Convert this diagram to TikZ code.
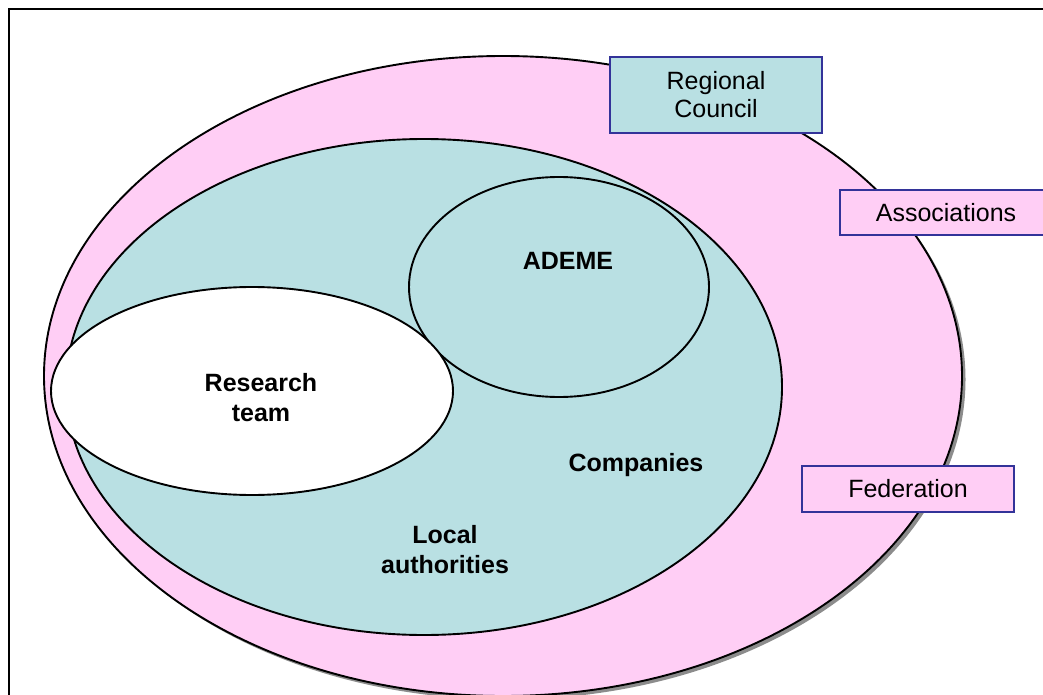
\documentclass[tikz,border=0pt]{standalone}
\usepackage{fontspec}
\setmainfont{Liberation Sans}
\usetikzlibrary{shapes.geometric}
\definecolor{pinkfill}{RGB}{255,206,245}
\definecolor{tealfill}{RGB}{185,224,227}
\definecolor{boxline}{RGB}{51,51,153}
\tikzset{
  ell/.style={ellipse, draw=black, line width=1.9pt, inner sep=0pt},
  lbl/.style={align=center, font=\fontsize{25}{30}\selectfont\bfseries},
  tagbox/.style={draw=boxline, line width=1.8pt, minimum width=212pt, inner sep=0pt, align=center, font=\fontsize{25}{28}\selectfont}
}
\begin{document}
\begin{tikzpicture}[x=1pt,y=-1pt]
\useasboundingbox (0,0) rectangle (1043,695);
\clip (0,0) rectangle (1043,695);
\draw[line width=2.4pt] (9,9) rectangle (1070,720);
% outer ellipse with shadow
\node[ellipse, fill=gray!90, inner sep=0pt, minimum width=918pt, minimum height=640pt] (outershadow) at (506.5,379.5) {};
\node[ell, fill=pinkfill, minimum width=918pt, minimum height=640pt] (outer) at (503,376) {};
\node[ell, fill=tealfill, minimum width=716pt, minimum height=496pt] (inner) at (424,387) {};
\node[ell, fill=tealfill, minimum width=300pt, minimum height=220pt] (ademe) at (559,287) {};
\node[ell, fill=white, minimum width=402pt, minimum height=208pt] (research) at (252,391) {};
% labels
\node[lbl] (ademetxt) at (568,261) {ADEME};
\node[lbl] (researchtxt) at (261,398) {Research\\team};
\node[lbl] (companies) at (636,465) {Companies};
\node[lbl] (local) at (445,550) {Local\\authorities};
% boxes
\node[tagbox, fill=tealfill, minimum height=76pt] (regional) at (716,95) {Regional\\Council};
\node[tagbox, fill=pinkfill, minimum height=45pt] (assoc) at (946,212.5) {Associations};
\node[tagbox, fill=pinkfill, minimum height=46pt] (federation) at (908,489) {Federation};
\end{tikzpicture}
\end{document}
